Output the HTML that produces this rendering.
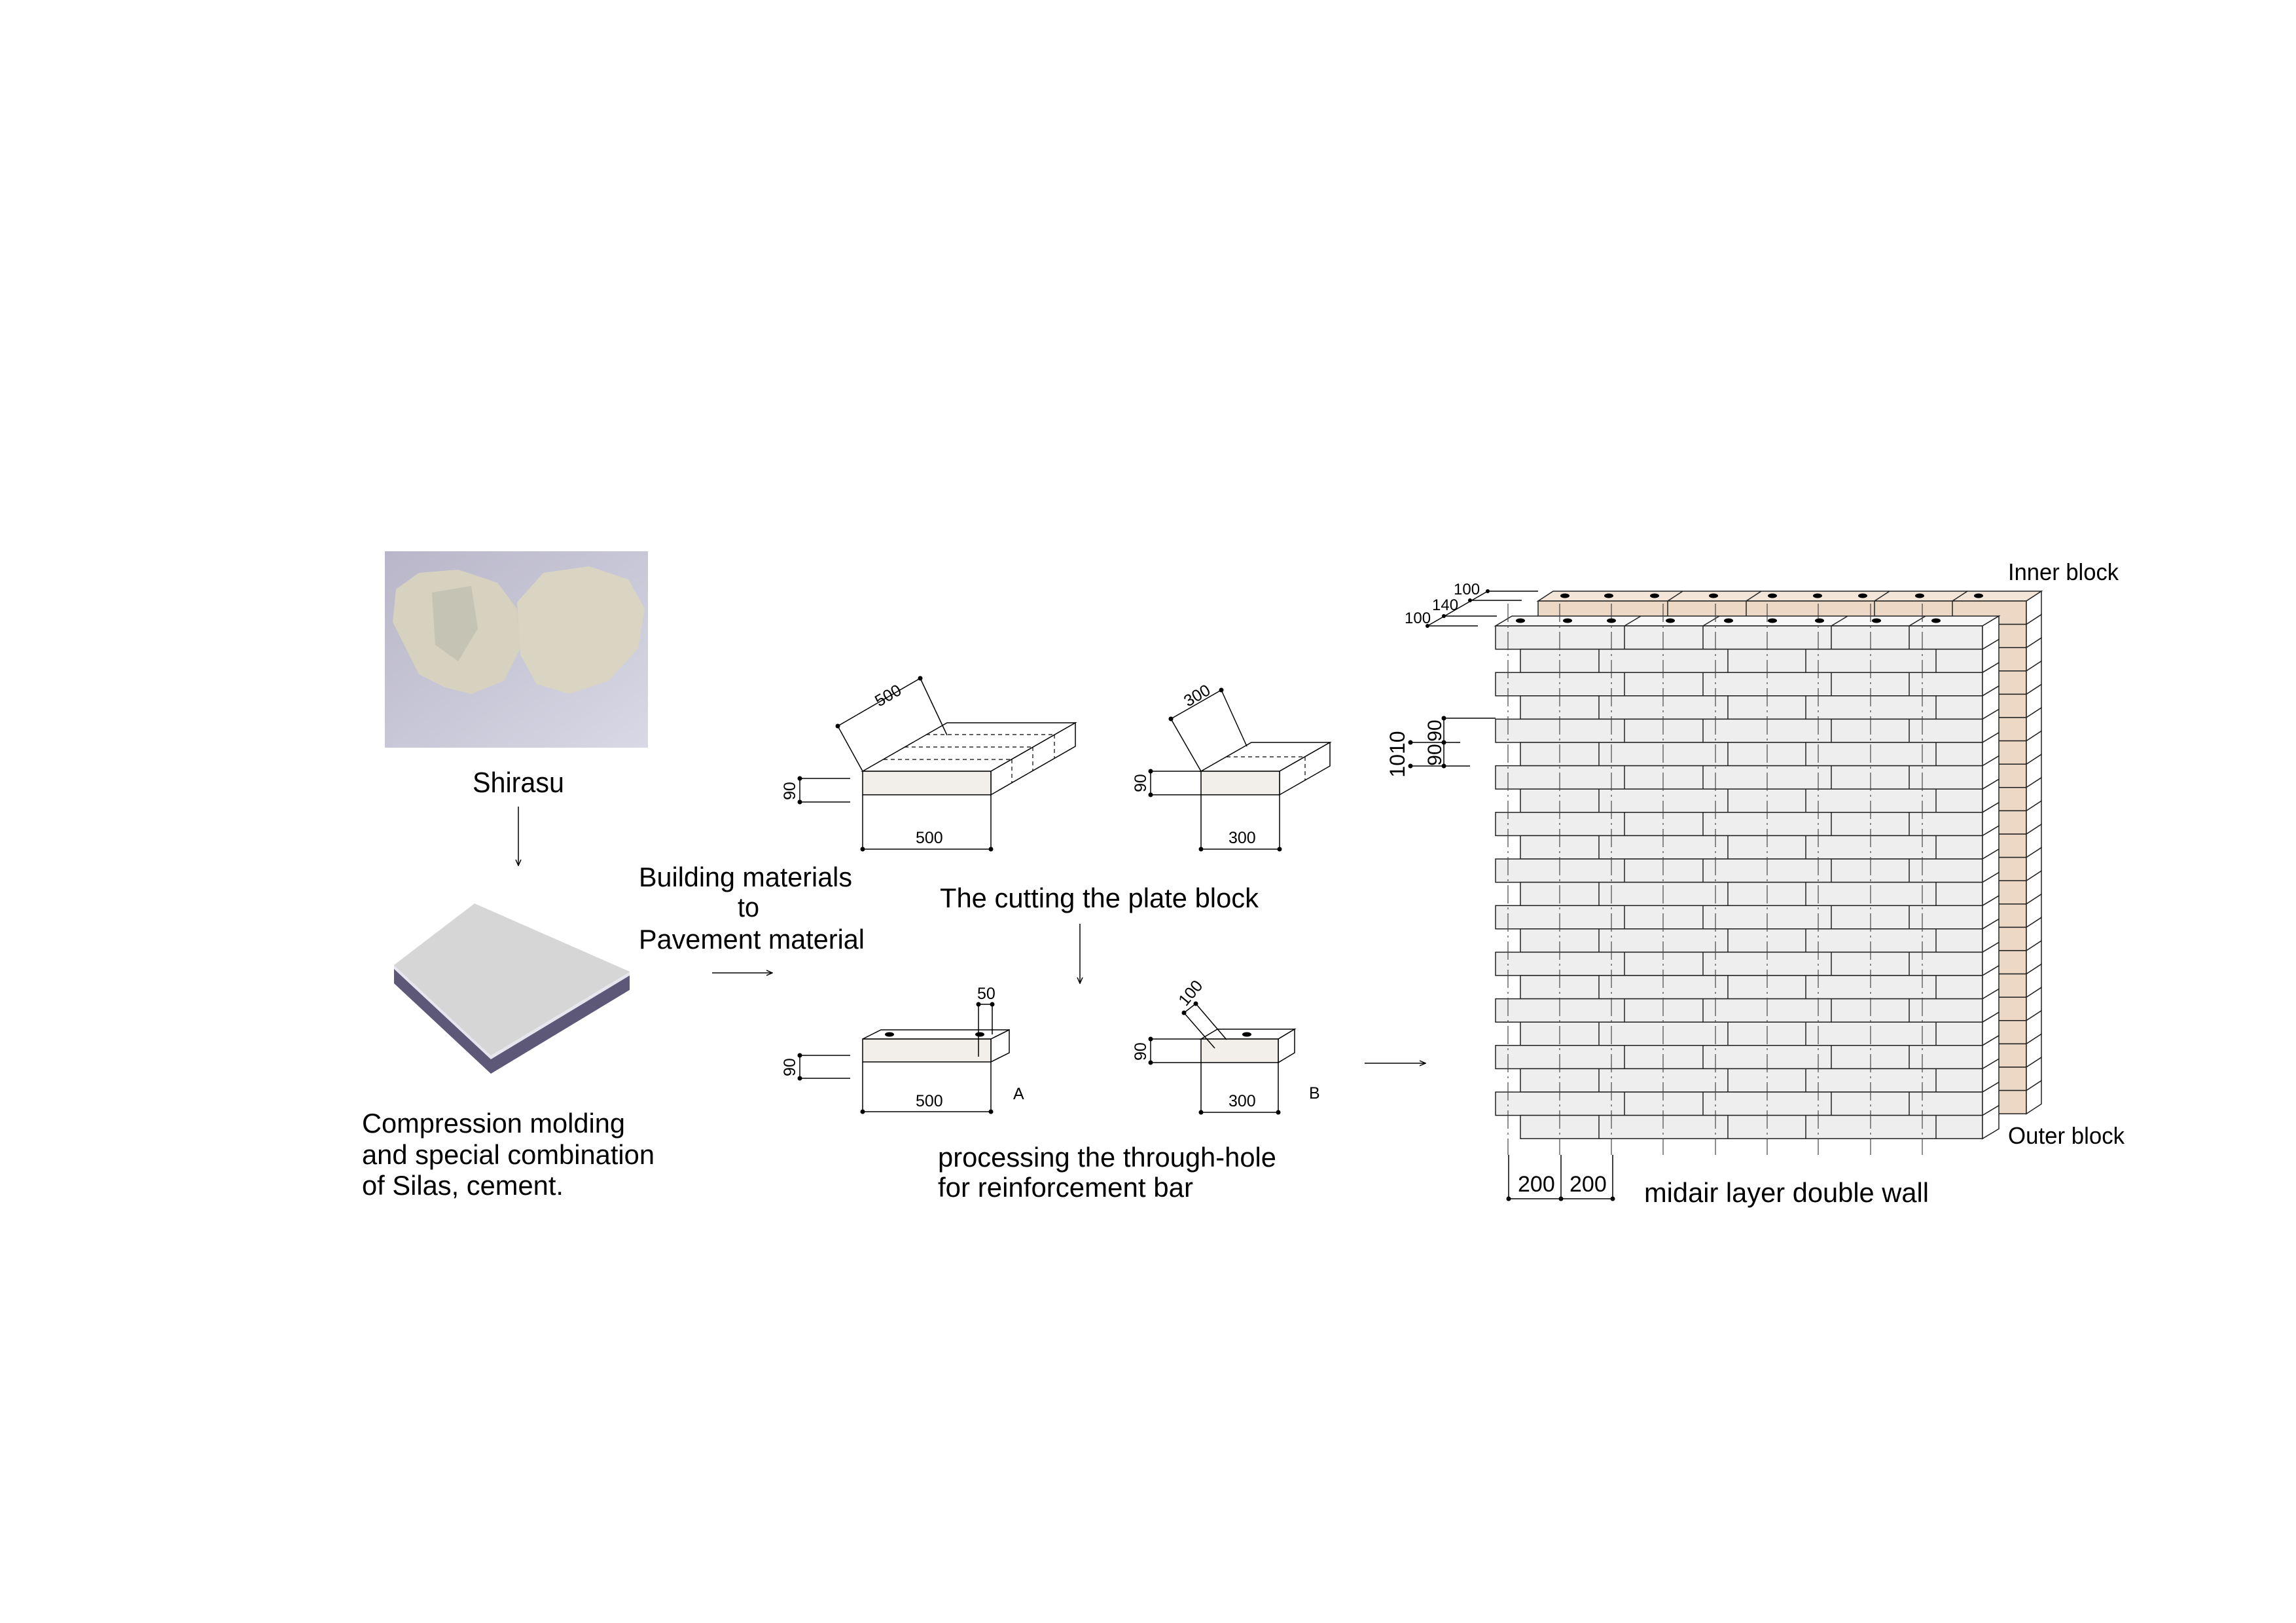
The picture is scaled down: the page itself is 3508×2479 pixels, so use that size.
<!DOCTYPE html>
<html><head><meta charset="utf-8"><style>html,body{margin:0;padding:0;background:#fff}svg{display:block}</style></head><body>
<svg xmlns="http://www.w3.org/2000/svg" xmlns:xlink="http://www.w3.org/1999/xlink" width="3508" height="2479" viewBox="0 0 3508 2479" font-family="Liberation Sans, sans-serif">
<defs>
<linearGradient id="bg" x1="0" y1="0" x2="1" y2="1"><stop offset="0" stop-color="#b8b6c8"/><stop offset="1" stop-color="#d8d8e6"/></linearGradient>
<marker id="ar" markerWidth="10" markerHeight="10" refX="9" refY="5" orient="auto" markerUnits="userSpaceOnUse"><path d="M0,1 L9,5 L0,9" fill="none" stroke="#000" stroke-width="1.5"/></marker>
<g id="fpair" stroke="#222" stroke-width="1.5">
<rect x="2285" y="0" width="744" height="35.6" fill="#eeeeee"/>
<polygon points="3029,0 3054,-15 3054,20.6 3029,35.6" fill="#fff"/>
<line x1="2482" y1="0" x2="2482" y2="35.6"/><line x1="2602" y1="0" x2="2602" y2="35.6"/><line x1="2798" y1="0" x2="2798" y2="35.6"/><line x1="2917" y1="0" x2="2917" y2="35.6"/>
<rect x="2323" y="35.6" width="706" height="35.6" fill="#eeeeee"/>
<polygon points="3029,35.6 3054,20.6 3054,56.2 3029,71.2" fill="#fff"/>
<line x1="2443" y1="35.6" x2="2443" y2="71.2"/><line x1="2640" y1="35.6" x2="2640" y2="71.2"/><line x1="2759" y1="35.6" x2="2759" y2="71.2"/><line x1="2958" y1="35.6" x2="2958" y2="71.2"/>
</g>
<g id="ipair" stroke="#222" stroke-width="1.5">
<rect x="2350" y="0" width="746" height="35.6" fill="#ecd8c4"/>
<polygon points="3096,0 3119,-15 3119,20.6 3096,35.6" fill="#fff"/>
<line x1="2548" y1="0" x2="2548" y2="35.6"/><line x1="2668" y1="0" x2="2668" y2="35.6"/><line x1="2864" y1="0" x2="2864" y2="35.6"/><line x1="2983" y1="0" x2="2983" y2="35.6"/>
<rect x="2388" y="35.6" width="708" height="35.6" fill="#ecd8c4"/>
<polygon points="3096,35.6 3119,20.6 3119,56.2 3096,71.2" fill="#fff"/>
<line x1="2510" y1="35.6" x2="2510" y2="71.2"/><line x1="2706" y1="35.6" x2="2706" y2="71.2"/><line x1="2826" y1="35.6" x2="2826" y2="71.2"/><line x1="3024" y1="35.6" x2="3024" y2="71.2"/>
</g>
</defs>
<!-- photo -->
<rect x="588" y="842" width="402" height="300" fill="url(#bg)"/>
<path d="M605,900 L640,875 L700,870 L760,890 L790,930 L795,990 L770,1040 L720,1060 L680,1050 L640,1030 L620,990 L600,950 Z" fill="#d6d2bf"/>
<path d="M790,920 L830,875 L900,865 L960,885 L985,930 L975,990 L930,1040 L870,1060 L820,1045 L795,1000 Z" fill="#d9d5c2"/>
<path d="M660,905 L720,895 L730,960 L700,1010 L665,985 Z" fill="#bdbcae" opacity="0.7"/>
<text x="722" y="1210" font-size="44" textLength="140" lengthAdjust="spacingAndGlyphs">Shirasu</text>
<line x1="792" y1="1232" x2="792" y2="1322" stroke="#000" stroke-width="1.5" marker-end="url(#ar)"/>
<!-- paver -->
<polygon points="602,1474 750,1612 962,1484 962,1512 750,1640 602,1502" fill="#5e5878"/>
<polygon points="602,1474 750,1612 962,1484 962,1490 750,1618 602,1480" fill="#e6e6ee"/>
<polygon points="602,1474 725,1380 962,1484 750,1612" fill="#d6d6d6"/>
<text x="553" y="1730" font-size="42" textLength="402" lengthAdjust="spacingAndGlyphs">Compression molding</text>
<text x="553" y="1778" font-size="42" textLength="447" lengthAdjust="spacingAndGlyphs">and special combination</text>
<text x="553" y="1825" font-size="42" textLength="308" lengthAdjust="spacingAndGlyphs">of Silas, cement.</text>
<text x="976" y="1354" font-size="42" textLength="326" lengthAdjust="spacingAndGlyphs">Building materials</text>
<text x="1127" y="1400" font-size="42" textLength="33" lengthAdjust="spacingAndGlyphs">to</text>
<text x="976" y="1449" font-size="42" textLength="345" lengthAdjust="spacingAndGlyphs">Pavement material</text>
<line x1="1088" y1="1486" x2="1180" y2="1486" stroke="#000" stroke-width="1.5" marker-end="url(#ar)"/>
<g stroke="#000" stroke-width="1.5" fill="none">
<polygon points="1318,1178 1447,1104 1643,1104 1514,1178" fill="#fff"/>
<polygon points="1514,1178 1643,1104 1643,1140 1514,1214" fill="#fff"/>
<rect x="1318" y="1178" width="196" height="36" fill="#f2efea"/>
<g stroke-dasharray="6 5" stroke-width="1.2">
<line x1="1350" y1="1160" x2="1546" y2="1160"/><line x1="1382" y1="1141" x2="1578" y2="1141"/><line x1="1415" y1="1122" x2="1611" y2="1122"/>
<line x1="1546" y1="1160" x2="1546" y2="1196"/><line x1="1578" y1="1141" x2="1578" y2="1177"/><line x1="1611" y1="1122" x2="1611" y2="1158"/>
</g>
<line x1="1318" y1="1178" x2="1280" y2="1109"/><line x1="1280" y1="1109" x2="1406" y2="1036"/><line x1="1406" y1="1036" x2="1447" y2="1123"/>
<line x1="1222" y1="1189" x2="1222" y2="1225"/><line x1="1222" y1="1189" x2="1299" y2="1189"/><line x1="1222" y1="1225" x2="1299" y2="1225"/>
<line x1="1318" y1="1214" x2="1318" y2="1297"/><line x1="1514" y1="1214" x2="1514" y2="1297"/><line x1="1318" y1="1297" x2="1514" y2="1297"/>
<polygon points="1835,1178 1912,1134 2032,1134 1955,1178" fill="#fff"/>
<polygon points="1955,1178 2032,1134 2032,1170 1955,1214" fill="#fff"/>
<rect x="1835" y="1178" width="120" height="36" fill="#f2efea"/>
<g stroke-dasharray="6 5" stroke-width="1.2">
<line x1="1874" y1="1156" x2="1994" y2="1156"/><line x1="1994" y1="1156" x2="1994" y2="1192"/>
</g>
<line x1="1835" y1="1178" x2="1789" y2="1098"/><line x1="1789" y1="1098" x2="1866" y2="1054"/><line x1="1866" y1="1054" x2="1905" y2="1140"/>
<line x1="1758" y1="1178" x2="1758" y2="1214"/><line x1="1758" y1="1178" x2="1835" y2="1178"/><line x1="1758" y1="1214" x2="1835" y2="1214"/>
<line x1="1835" y1="1214" x2="1835" y2="1297"/><line x1="1955" y1="1214" x2="1955" y2="1297"/><line x1="1835" y1="1297" x2="1955" y2="1297"/>
<polygon points="1318,1587 1346,1573 1542,1573 1514,1587" fill="#fff"/>
<polygon points="1514,1587 1542,1573 1542,1608 1514,1622" fill="#fff"/>
<rect x="1318" y="1587" width="196" height="35" fill="#f2efea"/>
<line x1="1495" y1="1534" x2="1495" y2="1614"/><line x1="1516" y1="1534" x2="1516" y2="1580"/><line x1="1495" y1="1534" x2="1516" y2="1534"/>
<line x1="1222" y1="1612" x2="1222" y2="1647"/><line x1="1222" y1="1612" x2="1299" y2="1612"/><line x1="1222" y1="1647" x2="1299" y2="1647"/>
<line x1="1318" y1="1622" x2="1318" y2="1698"/><line x1="1514" y1="1622" x2="1514" y2="1698"/><line x1="1318" y1="1698" x2="1514" y2="1698"/>
<polygon points="1835,1587 1860,1572 1978,1572 1953,1587" fill="#fff"/>
<polygon points="1953,1587 1978,1572 1978,1608 1953,1623" fill="#fff"/>
<rect x="1835" y="1587" width="118" height="36" fill="#f2efea"/>
<line x1="1809" y1="1547" x2="1856" y2="1601"/><line x1="1827" y1="1533" x2="1874" y2="1588"/><line x1="1809" y1="1547" x2="1827" y2="1533"/>
<line x1="1758" y1="1587" x2="1758" y2="1623"/><line x1="1758" y1="1587" x2="1835" y2="1587"/><line x1="1758" y1="1623" x2="1835" y2="1623"/>
<line x1="1835" y1="1623" x2="1835" y2="1699"/><line x1="1953" y1="1623" x2="1953" y2="1699"/><line x1="1835" y1="1699" x2="1953" y2="1699"/>
</g>
<g fill="#000">
<circle cx="1280" cy="1109" r="3.5"/><circle cx="1406" cy="1036" r="3.5"/><circle cx="1222" cy="1189" r="3.5"/><circle cx="1222" cy="1225" r="3.5"/><circle cx="1318" cy="1297" r="3.5"/><circle cx="1514" cy="1297" r="3.5"/>
<circle cx="1789" cy="1098" r="3.5"/><circle cx="1866" cy="1054" r="3.5"/><circle cx="1758" cy="1178" r="3.5"/><circle cx="1758" cy="1214" r="3.5"/><circle cx="1835" cy="1297" r="3.5"/><circle cx="1955" cy="1297" r="3.5"/>
<circle cx="1495" cy="1534" r="3.5"/><circle cx="1516" cy="1534" r="3.5"/><circle cx="1222" cy="1612" r="3.5"/><circle cx="1222" cy="1647" r="3.5"/><circle cx="1318" cy="1698" r="3.5"/><circle cx="1514" cy="1698" r="3.5"/>
<circle cx="1809" cy="1547" r="3.5"/><circle cx="1827" cy="1533" r="3.5"/><circle cx="1758" cy="1587" r="3.5"/><circle cx="1758" cy="1623" r="3.5"/><circle cx="1835" cy="1699" r="3.5"/><circle cx="1953" cy="1699" r="3.5"/>
<ellipse cx="1359" cy="1580" rx="7" ry="3.5"/><ellipse cx="1497" cy="1580" rx="7" ry="3.5"/><ellipse cx="1905" cy="1580" rx="7" ry="3.5"/>
</g>
<g font-size="25">
<text x="1343" y="1080" transform="rotate(-30 1343 1080)">500</text>
<text x="1815" y="1080" transform="rotate(-30 1815 1080)">300</text>
<text x="1215" y="1222" transform="rotate(-90 1215 1222)">90</text>
<text x="1751" y="1210" transform="rotate(-90 1751 1210)">90</text>
<text x="1215" y="1644" transform="rotate(-90 1215 1644)">90</text>
<text x="1751" y="1620" transform="rotate(-90 1751 1620)">90</text>
<text x="1399" y="1288">500</text><text x="1877" y="1288">300</text>
<text x="1399" y="1690">500</text><text x="1877" y="1690">300</text>
<text x="1493" y="1526">50</text>
<text x="1812" y="1538" transform="rotate(-50 1812 1538)">100</text>
<text x="1548" y="1679">A</text><text x="2000" y="1678">B</text>
</g>
<text x="1436" y="1386" font-size="42" textLength="487" lengthAdjust="spacingAndGlyphs">The cutting the plate block</text>
<line x1="1650" y1="1411" x2="1650" y2="1502" stroke="#000" stroke-width="1.5" marker-end="url(#ar)"/>
<text x="1433" y="1782" font-size="42" textLength="517" lengthAdjust="spacingAndGlyphs">processing the through-hole</text>
<text x="1433" y="1828" font-size="42" textLength="390" lengthAdjust="spacingAndGlyphs">for reinforcement bar</text>
<line x1="2085" y1="1624" x2="2178" y2="1624" stroke="#000" stroke-width="1.5" marker-end="url(#ar)"/>
<!-- inner wall -->
<polygon points="2350,918 2373,903 3119,903 3096,918" fill="#f3e6d8" stroke="#222" stroke-width="1.5"/>
<use xlink:href="#ipair" href="#ipair" transform="translate(0,918)"/>
<use xlink:href="#ipair" href="#ipair" transform="translate(0,989.2)"/>
<use xlink:href="#ipair" href="#ipair" transform="translate(0,1060.4)"/>
<use xlink:href="#ipair" href="#ipair" transform="translate(0,1131.6)"/>
<use xlink:href="#ipair" href="#ipair" transform="translate(0,1202.8)"/>
<use xlink:href="#ipair" href="#ipair" transform="translate(0,1274)"/>
<use xlink:href="#ipair" href="#ipair" transform="translate(0,1345.2)"/>
<use xlink:href="#ipair" href="#ipair" transform="translate(0,1416.4)"/>
<use xlink:href="#ipair" href="#ipair" transform="translate(0,1487.6)"/>
<use xlink:href="#ipair" href="#ipair" transform="translate(0,1558.8)"/>
<use xlink:href="#ipair" href="#ipair" transform="translate(0,1630)"/>
<g stroke="#222" stroke-width="1.5">
<line x1="2548" y1="918" x2="2571" y2="903"/><line x1="2668" y1="918" x2="2691" y2="903"/><line x1="2864" y1="918" x2="2887" y2="903"/><line x1="2983" y1="918" x2="3006" y2="903"/>
</g>
<!-- front wall -->
<polygon points="2285,956 2310,941 3054,941 3029,956" fill="#f7f7f7" stroke="#222" stroke-width="1.5"/>
<use xlink:href="#fpair" href="#fpair" transform="translate(0,956)"/>
<use xlink:href="#fpair" href="#fpair" transform="translate(0,1027.2)"/>
<use xlink:href="#fpair" href="#fpair" transform="translate(0,1098.4)"/>
<use xlink:href="#fpair" href="#fpair" transform="translate(0,1169.6)"/>
<use xlink:href="#fpair" href="#fpair" transform="translate(0,1240.8)"/>
<use xlink:href="#fpair" href="#fpair" transform="translate(0,1312)"/>
<use xlink:href="#fpair" href="#fpair" transform="translate(0,1383.2)"/>
<use xlink:href="#fpair" href="#fpair" transform="translate(0,1454.4)"/>
<use xlink:href="#fpair" href="#fpair" transform="translate(0,1525.6)"/>
<use xlink:href="#fpair" href="#fpair" transform="translate(0,1596.8)"/>
<use xlink:href="#fpair" href="#fpair" transform="translate(0,1668)"/>
<g stroke="#222" stroke-width="1.5">
<line x1="2482" y1="956" x2="2507" y2="941"/><line x1="2602" y1="956" x2="2627" y2="941"/><line x1="2798" y1="956" x2="2823" y2="941"/><line x1="2917" y1="956" x2="2942" y2="941"/>
</g>
<g stroke="#444" stroke-width="1.2" stroke-dasharray="28 6 3 6">
<line x1="2304" y1="922" x2="2304" y2="1764"/><line x1="2383" y1="922" x2="2383" y2="1764"/><line x1="2462" y1="922" x2="2462" y2="1764"/>
<line x1="2541" y1="922" x2="2541" y2="1764"/><line x1="2621" y1="922" x2="2621" y2="1764"/><line x1="2700" y1="922" x2="2700" y2="1764"/>
<line x1="2778" y1="922" x2="2778" y2="1764"/><line x1="2858" y1="922" x2="2858" y2="1764"/><line x1="2937" y1="922" x2="2937" y2="1764"/>
</g>
<g fill="#000">
<ellipse cx="2323" cy="948" rx="7" ry="3.5"/><ellipse cx="2395" cy="948" rx="7" ry="3.5"/><ellipse cx="2462" cy="948" rx="7" ry="3.5"/><ellipse cx="2552" cy="948" rx="7" ry="3.5"/><ellipse cx="2641" cy="948" rx="7" ry="3.5"/><ellipse cx="2708" cy="948" rx="7" ry="3.5"/><ellipse cx="2780" cy="948" rx="7" ry="3.5"/><ellipse cx="2867" cy="948" rx="7" ry="3.5"/><ellipse cx="2958" cy="948" rx="7" ry="3.5"/>
<ellipse cx="2391" cy="910" rx="7" ry="3.5"/><ellipse cx="2458" cy="910" rx="7" ry="3.5"/><ellipse cx="2528" cy="910" rx="7" ry="3.5"/><ellipse cx="2618" cy="910" rx="7" ry="3.5"/><ellipse cx="2708" cy="910" rx="7" ry="3.5"/><ellipse cx="2777" cy="910" rx="7" ry="3.5"/><ellipse cx="2846" cy="910" rx="7" ry="3.5"/><ellipse cx="2933" cy="910" rx="7" ry="3.5"/><ellipse cx="3023" cy="910" rx="7" ry="3.5"/>
</g>
<text x="3068" y="886" font-size="36" textLength="169" lengthAdjust="spacingAndGlyphs">Inner block</text>
<text x="3068" y="1747" font-size="36" textLength="178" lengthAdjust="spacingAndGlyphs">Outer block</text>
<text x="2512" y="1836" font-size="42" textLength="435" lengthAdjust="spacingAndGlyphs">midair layer double wall</text>
<g font-size="34"><text x="2319" y="1820">200</text><text x="2398" y="1820">200</text></g>
<g stroke="#000" stroke-width="1.5">
<line x1="2305" y1="1764" x2="2305" y2="1831"/><line x1="2385" y1="1764" x2="2385" y2="1831"/><line x1="2464" y1="1764" x2="2464" y2="1831"/>
<line x1="2305" y1="1831" x2="2464" y2="1831"/>
<line x1="2273" y1="903" x2="2350" y2="903"/><line x1="2246" y1="917" x2="2325" y2="917"/><line x1="2206" y1="941" x2="2287" y2="941"/><line x1="2181" y1="956" x2="2258" y2="956"/>
<line x1="2181" y1="956" x2="2273" y2="903"/>
<line x1="2206" y1="1097" x2="2206" y2="1170"/>
<line x1="2206" y1="1097" x2="2285" y2="1097"/><line x1="2155" y1="1134" x2="2231" y2="1134"/><line x1="2155" y1="1170" x2="2246" y2="1170"/>
</g>
<g fill="#000">
<circle cx="2305" cy="1831" r="3.5"/><circle cx="2385" cy="1831" r="3.5"/><circle cx="2464" cy="1831" r="3.5"/>
<circle cx="2273" cy="903" r="3"/><circle cx="2246" cy="917" r="3"/><circle cx="2206" cy="941" r="3"/><circle cx="2181" cy="956" r="3"/>
<circle cx="2206" cy="1097" r="3.5"/><circle cx="2206" cy="1134" r="3.5"/><circle cx="2206" cy="1170" r="3.5"/><circle cx="2155" cy="1134" r="3.5"/><circle cx="2155" cy="1170" r="3.5"/>
</g>
<g font-size="24"><text x="2221" y="908">100</text><text x="2188" y="932">140</text><text x="2146" y="952">100</text></g>
<text x="2146" y="1152" font-size="32" text-anchor="middle" transform="rotate(-90 2146 1152)">1010</text>
<text x="2202" y="1116" font-size="30" text-anchor="middle" transform="rotate(-90 2202 1116)">90</text>
<text x="2202" y="1153" font-size="30" text-anchor="middle" transform="rotate(-90 2202 1153)">90</text>
</svg>
</body></html>
